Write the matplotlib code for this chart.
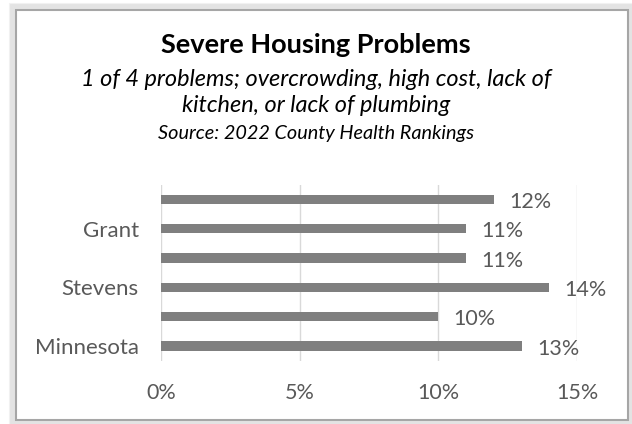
import matplotlib.pyplot as plt
from matplotlib.patches import Rectangle

# bottom to top, as in the chart
categories = ["Minnesota", "", "Stevens", "", "Grant", ""]
values = [13, 10, 14, 11, 11, 12]
x_ticks = [0, 5, 10, 15]

plt.rcParams['font.family'] = ['Lato', 'DejaVu Sans']

W, H = 632, 424
fig = plt.figure(figsize=(W / 100, H / 100), dpi=100)

# frame with a soft shadow
for i in range(6, 0, -1):
    fig.patches.append(Rectangle((16 - i, 4 - i), 612 + 2 * i, 410 + 2 * i,
                                 transform=None, facecolor='none',
                                 edgecolor='#000000', alpha=0.05, lw=1.5,
                                 zorder=-2))
fig.patches.append(Rectangle((16, 4), 612, 410, transform=None, zorder=-1,
                             facecolor='white', edgecolor='#a6a6a6', lw=1.5))

ax = fig.add_axes([161 / W, 1 - 360.7 / H, (577 - 161) / W, (360.7 - 184.7) / H])
pos = list(range(len(values)))
ax.barh(pos, values, height=0.32, color='#7f7f7f', zorder=3)
ax.set_ylim(-0.5, len(values) - 0.5)
ax.set_xlim(0, 15)
ax.set_xticks(x_ticks)
ax.set_xticklabels([f"{t}%" for t in x_ticks], fontsize=15.5, color='#595959')
ax.set_yticks(pos)
ax.set_yticklabels(categories, fontsize=16, color='#595959')
ax.tick_params(length=0)
ax.tick_params(axis='y', pad=16)
ax.tick_params(axis='x', pad=16)
ax.grid(axis='x', color='#d9d9d9', lw=1, zorder=0)
for s in ax.spines.values():
    s.set_visible(False)
ax.set_facecolor('none')

for p, v in zip(pos, values):
    ax.annotate(f"{v}%", (v, p), xytext=(11, -2), textcoords='offset points',
                va='center', ha='left', fontsize=15.5, color='#595959')

fig.text(0.5, 1 - 45 / H, "Severe Housing Problems", ha='center', va='center',
         fontsize=19.5, fontweight='bold', color='black')
fig.text(0.5, 1 - 79 / H, "1 of 4 problems; overcrowding, high cost, lack of",
         ha='center', va='center', fontsize=16.9, style='italic', color='black')
fig.text(0.5, 1 - 106 / H, "kitchen, or lack of plumbing",
         ha='center', va='center', fontsize=16.9, style='italic', color='black')
fig.text(0.5, 1 - 133 / H, "Source: 2022 County Health Rankings",
         ha='center', va='center', fontsize=14.3, style='italic', color='black')

fig.savefig("out.png", dpi=100)
